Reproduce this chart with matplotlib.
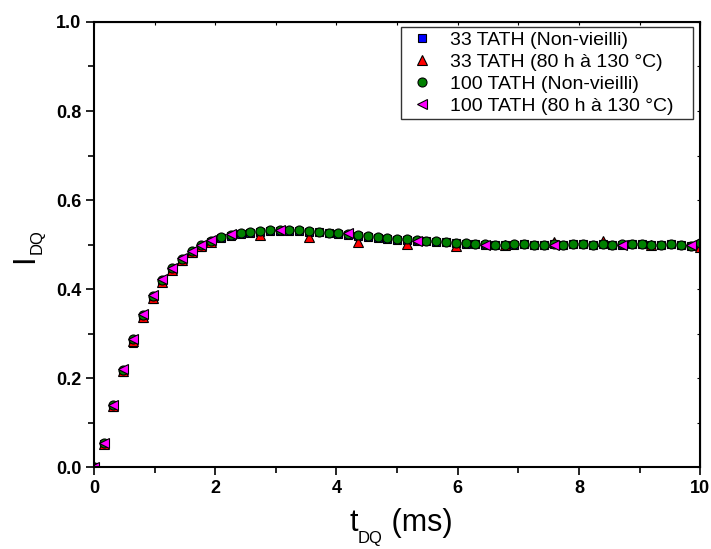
import numpy as np
import matplotlib
matplotlib.use("Agg")
import matplotlib.pyplot as plt
from matplotlib.ticker import MultipleLocator

plt.rcParams['font.family'] = ['Liberation Sans', 'DejaVu Sans']

step = 10 / 62

# 33 TATH (Non-vieilli)
blue_idx = list(range(0, 63))
blue_y = [0.0, 0.052, 0.135, 0.213, 0.280, 0.335, 0.378, 0.415, 0.442, 0.463, 0.481, 0.495, 0.506,
          0.514, 0.520, 0.524, 0.527, 0.529, 0.530, 0.531, 0.531, 0.530, 0.529, 0.528, 0.526, 0.524,
          0.521, 0.519, 0.517, 0.515, 0.513, 0.511, 0.510, 0.508, 0.507, 0.506, 0.505, 0.503, 0.502,
          0.501, 0.500, 0.500, 0.500, 0.500, 0.501, 0.499, 0.500, 0.501, 0.498, 0.501, 0.501, 0.500,
          0.502, 0.499, 0.500, 0.501, 0.501, 0.500, 0.500, 0.501, 0.498, 0.497, 0.501]

# 33 TATH (80 h à 130 °C)
red_idx = list(range(0, 13)) + [17, 22, 27, 32, 37, 42, 47, 52, 57, 62]
red_y = [0.0, 0.053, 0.137, 0.216, 0.284, 0.338, 0.381, 0.417, 0.444, 0.465, 0.483, 0.496, 0.506,
         0.522, 0.517, 0.506, 0.501, 0.497, 0.499, 0.506, 0.507, 0.500, 0.495]

# 100 TATH (Non-vieilli)
green_idx = list(range(0, 63))
green_y = [0.0, 0.054, 0.139, 0.219, 0.287, 0.342, 0.385, 0.421, 0.447, 0.468, 0.485, 0.498, 0.509,
           0.517, 0.522, 0.526, 0.529, 0.531, 0.532, 0.533, 0.533, 0.532, 0.531, 0.529, 0.527, 0.525,
           0.523, 0.521, 0.519, 0.517, 0.515, 0.513, 0.512, 0.510, 0.508, 0.507, 0.506, 0.504, 0.503,
           0.502, 0.501, 0.500, 0.499, 0.501, 0.502, 0.499, 0.500, 0.501, 0.498, 0.502, 0.502, 0.500,
           0.502, 0.499, 0.501, 0.502, 0.501, 0.499, 0.500, 0.501, 0.498, 0.497, 0.503]

# 100 TATH (80 h à 130 °C)
mag_idx = list(range(0, 13)) + [14, 19, 26, 33, 40, 47, 54, 61]
mag_y = [0.0, 0.055, 0.140, 0.220, 0.288, 0.343, 0.386, 0.422, 0.448, 0.469, 0.486, 0.499, 0.510,
         0.523, 0.532, 0.525, 0.509, 0.499, 0.500, 0.500, 0.498]

labels = ['33 TATH (Non-vieilli)', '33 TATH (80 h à 130 °C)',
          '100 TATH (Non-vieilli)', '100 TATH (80 h à 130 °C)']

W, H = 711, 549
fig = plt.figure(figsize=(W / 100, H / 100), dpi=100)
ax = fig.add_axes([0.132, 0.149, 0.853, 0.811])

kw = dict(linestyle='none', markeredgecolor='black', markeredgewidth=0.8)
ax.plot(np.array(blue_idx) * step, blue_y, marker='s', markersize=5.5, color='#0000ff', label=labels[0], **kw)
ax.plot(np.array(red_idx) * step, red_y, marker='^', markersize=7, color='#ff0000', label=labels[1], **kw)
ax.plot(np.array(green_idx) * step, green_y, marker='o', markersize=6.5, color='#008000', label=labels[2], **kw)
ax.plot(np.array(mag_idx) * step, mag_y, marker='<', markersize=7.5, color='#ff00ff', label=labels[3], **kw)

ax.set_xlim(0, 10)
ax.set_ylim(0, 1.0)
ax.xaxis.set_major_locator(MultipleLocator(2))
ax.xaxis.set_minor_locator(MultipleLocator(1))
ax.yaxis.set_major_locator(MultipleLocator(0.2))
ax.yaxis.set_minor_locator(MultipleLocator(0.1))
ax.yaxis.set_major_formatter(plt.FormatStrFormatter('%.1f'))
ax.tick_params(which='both', direction='out', width=1.2, labelsize=13, pad=3)
ax.tick_params(which='major', length=6)
ax.tick_params(which='minor', length=4)
for lab in ax.get_xticklabels() + ax.get_yticklabels():
    lab.set_fontweight('bold')
for s in ax.spines.values():
    s.set_linewidth(1.5)

# tiny inward ticks on top and right spines
sx = ax.secondary_xaxis('top')
sx.xaxis.set_major_locator(MultipleLocator(1))
sx.tick_params(direction='in', length=2, width=0.8, labelsize=0, labeltop=False)
sx.set_xticklabels([])
sy = ax.secondary_yaxis('right')
sy.yaxis.set_major_locator(MultipleLocator(0.1))
sy.tick_params(direction='in', length=2, width=0.8, labelsize=0, labelright=False)
sy.set_yticklabels([])

# legend box spanning pixel x 401..693, top at y=27 (from top)
x0 = (401 - 94) / 606
wl = (693 - 401) / 606
ytop = (467 - 27) / 445
leg = ax.legend(loc='upper left', mode='expand', fontsize=14, frameon=True, fancybox=False,
                edgecolor='black', borderpad=0.22, handletextpad=0.58, labelspacing=0.22,
                handlelength=1.72, borderaxespad=0.0, markerscale=1.0,
                bbox_to_anchor=(x0, ytop - 0.3, wl, 0.3))
leg.get_frame().set_linewidth(1.0)

fig.canvas.draw()
renderer = fig.canvas.get_renderer()


def composite(parts, cx, cy, vertical=False):
    """parts: list of (text, size, offset_px). cx, cy in pixels from bottom-left."""
    texts = []
    pos = 0.0
    for s, size, off in parts:
        if vertical:
            t = fig.text(0, 0, s, fontsize=size, rotation=90, rotation_mode='anchor',
                         ha='left', va='baseline', transform=None)
        else:
            t = fig.text(0, 0, s, fontsize=size, ha='left', va='baseline', transform=None)
        bb = t.get_window_extent(renderer)
        adv = bb.height if vertical else bb.width
        texts.append((t, pos, off))
        pos += adv
    start = (cy if vertical else cx) - pos / 2
    for t, p, off in texts:
        if vertical:
            t.set_position((cx + off, start + p))
        else:
            t.set_position((start + p, cy + off))


# x label: t_DQ (ms)
composite([('t', 22, 0), ('DQ', 12, -12), (' (ms)', 22, 0)], 401, H - 531)
# y label: I_DQ
composite([('I', 22, 0), ('DQ', 12, 9)], 33, H - 246, vertical=True)

fig.savefig('out.png', dpi=100)
